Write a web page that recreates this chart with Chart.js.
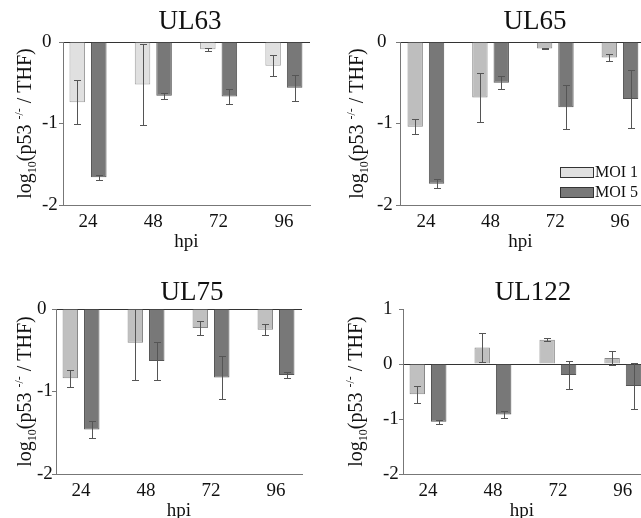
<!DOCTYPE html>
<html><head><meta charset="utf-8">
<script src="https://cdn.jsdelivr.net/npm/chart.js@4.4.0/dist/chart.umd.min.js"></script>
<style>
html,body{margin:0;padding:0;background:#fff;overflow:hidden;width:641px;height:518px;position:relative;}
canvas{position:absolute;}
</style></head><body>
<canvas id="c1" width="320" height="260" style="left:0;top:0"></canvas>
<canvas id="c2" width="321" height="260" style="left:320px;top:0"></canvas>
<canvas id="c3" width="320" height="270" style="left:0;top:260px"></canvas>
<canvas id="c4" width="321" height="270" style="left:320px;top:260px"></canvas>
<script>
// ---- data ----
const categories = ['24', '48', '72', '96'];
const seriesLabels = ['MOI 1', 'MOI 5'];
const xTitle = 'hpi';

const ul63Moi1 = [-0.74, -0.52, -0.09, -0.29];
const ul63Moi1Err = [0.27, 0.50, 0.015, 0.13];
const ul63Moi5 = [-1.66, -0.66, -0.67, -0.56];
const ul63Moi5Err = [0.03, 0.04, 0.09, 0.16];

const ul65Moi1 = [-1.04, -0.68, -0.08, -0.19];
const ul65Moi1Err = [0.09, 0.30, 0.005, 0.04];
const ul65Moi5 = [-1.74, -0.50, -0.80, -0.70];
const ul65Moi5Err = [0.055, 0.08, 0.27, 0.36];

const ul75Moi1 = [-0.84, -0.41, -0.23, -0.25];
const ul75Moi1Err = [0.10, 0.45, 0.09, 0.07];
const ul75Moi5 = [-1.46, -0.63, -0.83, -0.80];
const ul75Moi5Err = [0.10, 0.23, 0.26, 0.035];

const ul122Moi1 = [-0.55, 0.30, 0.44, 0.11];
const ul122Moi1Err = [0.15, 0.26, 0.03, 0.125];
const ul122Moi5 = [-1.05, -0.92, -0.20, -0.40];
const ul122Moi5Err = [0.035, 0.07, 0.26, 0.41];

const yRangeNeg = [-2, 0];
const yRangeMixed = [-2, 1];

// ---- styling / layout ----
const FONT = '"Liberation Serif", "Times New Roman", serif';
const TXT = '#111';

const panels = [
  {id:'c1', title:'UL63', m1:ul63Moi1, e1:ul63Moi1Err, m5:ul63Moi5, e5:ul63Moi5Err, yr:yRangeNeg,
   c1:'#e0e0e0', b1:'#a0a0a0', pad:{left:42,right:10,top:42,bottom:5}, yW:21, xMin:-0.383, xMax:3.40,
   titleX:190, titleY:22, labelX:25, legend:false},
  {id:'c2', title:'UL65', m1:ul65Moi1, e1:ul65Moi1Err, m5:ul65Moi5, e5:ul65Moi5Err, yr:yRangeNeg,
   c1:'#bebebe', b1:'#888888', pad:{left:57,right:0,top:42,bottom:5}, yW:23, xMin:-0.40, xMax:3.325,
   titleX:215, titleY:22, labelX:37, legend:true},
  {id:'c3', title:'UL75', m1:ul75Moi1, e1:ul75Moi1Err, m5:ul75Moi5, e5:ul75Moi5Err, yr:yRangeNeg,
   c1:'#c0c0c0', b1:'#888888', pad:{left:37,right:18,top:49,bottom:6}, yW:19, xMin:-0.385, xMax:3.40,
   titleX:192, titleY:33, labelX:25, legend:false},
  {id:'c4', title:'UL122', m1:ul122Moi1, e1:ul122Moi1Err, m5:ul122Moi5, e5:ul122Moi5Err, yr:yRangeMixed,
   c1:'#c0c0c0', b1:'#888888', pad:{left:63,right:0,top:49,bottom:6}, yW:20, xMin:-0.385, xMax:3.28,
   titleX:213, titleY:33, labelX:36, legend:false}
];

const errorBars = {
  id: 'errorBars',
  afterDatasetsDraw(chart) {
    const ctx = chart.ctx, ys = chart.scales.y, a = chart.chartArea;
    ctx.save();
    ctx.beginPath(); ctx.rect(a.left, a.top, a.right - a.left, a.bottom - a.top); ctx.clip();
    ctx.strokeStyle = '#555'; ctx.lineWidth = 1;
    chart.data.datasets.forEach((ds, i) => {
      const meta = chart.getDatasetMeta(i);
      meta.data.forEach((bar, j) => {
        const v = ds.data[j].y, e = ds.errors[j];
        const y1 = Math.round(ys.getPixelForValue(v + e)) + 0.5;
        const y2 = Math.round(ys.getPixelForValue(v - e)) + 0.5;
        const x = Math.round(bar.x) + 0.5;
        ctx.beginPath();
        ctx.moveTo(x, y1); ctx.lineTo(x, y2);
        ctx.moveTo(x - 3.5, y1); ctx.lineTo(x + 3.5, y1);
        ctx.moveTo(x - 3.5, y2); ctx.lineTo(x + 3.5, y2);
        ctx.stroke();
      });
    });
    ctx.restore();
  }
};

const decor = {
  id: 'decor',
  afterDraw(chart, args, o) {
    const ctx = chart.ctx, a = chart.chartArea;
    ctx.save();
    ctx.fillStyle = TXT;
    ctx.font = '27px ' + FONT;
    ctx.textAlign = 'center'; ctx.textBaseline = 'middle';
    ctx.fillText(o.title, o.titleX, o.titleY);
    // rotated y label with sub/superscript
    ctx.save();
    ctx.translate(o.labelX + 6, (a.top + a.bottom) / 2);
    ctx.rotate(-Math.PI / 2);
    ctx.textAlign = 'left'; ctx.textBaseline = 'alphabetic';
    const parts = [['log', 0], ['10', 1], ['(p53 ', 0], ['-/-', 2], [' / THF)', 0]];
    const fontFor = k => (k === 0 ? '20px ' : '12px ') + FONT;
    let total = 0;
    parts.forEach(p => { ctx.font = fontFor(p[1]); total += ctx.measureText(p[0]).width; });
    let x = -total / 2;
    parts.forEach(p => {
      ctx.font = fontFor(p[1]);
      const dy = p[1] === 1 ? 5 : (p[1] === 2 ? -8 : 0);
      ctx.fillText(p[0], x, dy);
      x += ctx.measureText(p[0]).width;
    });
    ctx.restore();
    if (o.legend) {
      const items = chart.data.datasets;
      const bx = 240, by = [167, 187], bw = 33, bh = 10;
      items.forEach((ds, i) => {
        ctx.fillStyle = i === 0 ? '#e0e0e0' : ds.backgroundColor;
        ctx.fillRect(bx, by[i], bw, bh);
        ctx.strokeStyle = '#333'; ctx.lineWidth = 1;
        ctx.strokeRect(bx + 0.5, by[i] + 0.5, bw, bh);
        ctx.fillStyle = TXT;
        ctx.font = '16px ' + FONT;
        ctx.textAlign = 'left'; ctx.textBaseline = 'middle';
        ctx.fillText(ds.label, bx + bw + 2, by[i] + bh / 2 + 1);
      });
    }
    ctx.restore();
  }
};

panels.forEach(p => {
  const mk = (vals) => vals.map((v, i) => ({x: i, y: v}));
  new Chart(document.getElementById(p.id), {
    type: 'bar',
    data: {
      datasets: [
        {label: seriesLabels[0], data: mk(p.m1), errors: p.e1,
         backgroundColor: p.c1, borderColor: p.b1, borderWidth: 1},
        {label: seriesLabels[1], data: mk(p.m5), errors: p.e5,
         backgroundColor: '#787878', borderColor: '#555555', borderWidth: 1}
      ]
    },
    options: {
      responsive: false,
      animation: false,
      devicePixelRatio: 1,
      categoryPercentage: 0.66,
      barPercentage: 0.72,
      layout: {padding: p.pad},
      plugins: {
        legend: {display: false},
        tooltip: {enabled: false},
        decor: {title: p.title, titleX: p.titleX, titleY: p.titleY, labelX: p.labelX, legend: p.legend}
      },
      scales: {
        x: {
          type: 'linear', min: p.xMin, max: p.xMax, offset: false,
          afterBuildTicks: s => { s.ticks = categories.map((c, i) => ({value: i})); },
          afterFit: s => { s.height = 50; },
          grid: {display: false},
          border: {display: true, color: '#777', width: 1},
          ticks: {font: {family: FONT, size: 19, lineHeight: 1}, color: TXT, padding: 0, maxRotation: 0, autoSkip: false,
                  callback: v => categories[v]},
          title: {display: true, text: xTitle, font: {family: FONT, size: 19}, color: TXT, padding: {top: 0, bottom: 2}}
        },
        y: {
          min: p.yr[0], max: p.yr[1],
          afterFit: s => { s.width = p.yW; },
          ticks: {stepSize: 1, font: {family: FONT, size: 19}, color: TXT, crossAlign: 'far', padding: 2},
          grid: {drawOnChartArea: true, color: c => (c.tick && c.tick.value === 0 ? '#333' : 'rgba(0,0,0,0)'),
                 tickColor: '#777', tickLength: 4, lineWidth: 1},
          border: {display: true, color: '#777', width: 1}
        }
      }
    },
    plugins: [errorBars, decor]
  });
});
</script>
</body></html>
